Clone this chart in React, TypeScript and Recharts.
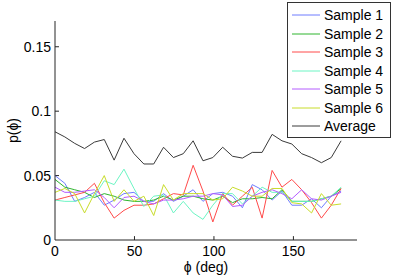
import { LineChart, Line, XAxis, YAxis, ReferenceLine } from 'recharts'

// angle bins (deg)
const angles = [
  0, 6.2, 12.4, 18.6, 24.8, 31.0, 37.2, 43.4, 49.7, 55.9, 62.1, 68.3, 74.5, 80.7, 86.9,
  93.1, 99.3, 105.5, 111.7, 117.9, 124.1, 130.3, 136.6, 142.8, 149.0, 155.2, 161.4, 167.6, 173.8, 180,
]

const sample1 = [
  0.050, 0.044, 0.030, 0.033, 0.037, 0.027, 0.031, 0.036, 0.037, 0.030, 0.030, 0.036, 0.030, 0.034, 0.039,
  0.030, 0.036, 0.037, 0.034, 0.025, 0.043, 0.039, 0.031, 0.038, 0.027, 0.027, 0.032, 0.025, 0.034, 0.038,
]
const sample2 = [
  0.047, 0.041, 0.039, 0.037, 0.033, 0.036, 0.034, 0.031, 0.030, 0.030, 0.031, 0.034, 0.031, 0.034, 0.034,
  0.032, 0.031, 0.034, 0.029, 0.032, 0.032, 0.033, 0.032, 0.039, 0.030, 0.030, 0.030, 0.032, 0.034, 0.040,
]
const sample3 = [
  0.031, 0.033, 0.035, 0.037, 0.044, 0.029, 0.017, 0.023, 0.027, 0.027, 0.028, 0.032, 0.036, 0.035, 0.058,
  0.038, 0.014, 0.036, 0.027, 0.034, 0.041, 0.017, 0.054, 0.041, 0.047, 0.039, 0.029, 0.017, 0.027, 0.040,
]
const sample4 = [
  0.031, 0.030, 0.030, 0.032, 0.034, 0.046, 0.043, 0.055, 0.040, 0.026, 0.034, 0.035, 0.021, 0.030, 0.021,
  0.016, 0.027, 0.036, 0.036, 0.028, 0.034, 0.041, 0.037, 0.037, 0.030, 0.030, 0.030, 0.032, 0.034, 0.041,
]
const sample5 = [
  0.041, 0.037, 0.037, 0.038, 0.039, 0.033, 0.025, 0.033, 0.034, 0.030, 0.028, 0.031, 0.031, 0.032, 0.034,
  0.034, 0.036, 0.035, 0.026, 0.027, 0.034, 0.037, 0.039, 0.036, 0.032, 0.039, 0.032, 0.031, 0.034, 0.037,
]
const sample6 = [
  0.037, 0.040, 0.036, 0.021, 0.036, 0.050, 0.030, 0.039, 0.030, 0.034, 0.019, 0.043, 0.031, 0.036, 0.036,
  0.036, 0.031, 0.032, 0.041, 0.038, 0.034, 0.034, 0.040, 0.040, 0.029, 0.028, 0.021, 0.036, 0.027, 0.028,
]
const average = [
  0.084, 0.080, 0.075, 0.071, 0.076, 0.078, 0.062, 0.079, 0.067, 0.059, 0.059, 0.072, 0.064, 0.067, 0.077,
  0.0615, 0.064, 0.072, 0.065, 0.0636, 0.068, 0.068, 0.082, 0.077, 0.0745, 0.067, 0.064, 0.060, 0.064, 0.077,
]

const xTicks = [0, 50, 100, 150]
const yTicks = [0, 0.05, 0.1, 0.15]

const series = [
  { key: 's1', name: 'Sample 1', values: sample1, color: '#6f7dff' },
  { key: 's2', name: 'Sample 2', values: sample2, color: '#2fb52f' },
  { key: 's3', name: 'Sample 3', values: sample3, color: '#ff4a4a' },
  { key: 's4', name: 'Sample 4', values: sample4, color: '#6cf5c4' },
  { key: 's5', name: 'Sample 5', values: sample5, color: '#b45cff' },
  { key: 's6', name: 'Sample 6', values: sample6, color: '#c8dc2a' },
  { key: 'avg', name: 'Average', values: average, color: '#3a3a3a' },
]

const data = angles.map((a, i) => {
  const row: Record<string, number> = { angle: a }
  series.forEach((s) => {
    row[s.key] = s.values[i]
  })
  return row
})

const font = '"Liberation Sans", Arial, Helvetica, sans-serif'
const axisColor = '#262626'

function YLabel(props: any) {
  const vb = props.viewBox
  const cx = vb.x + 18
  const cy = vb.y + vb.height / 2
  return (
    <text x={cx} y={cy} transform={`rotate(-90 ${cx} ${cy})`} textAnchor="middle" fontSize={14} fill="#000" fontFamily={font}>
      p(ϕ)
    </text>
  )
}

export default function App() {
  return (
    <div style={{ position: 'relative', width: 395, height: 277, background: '#fff', fontFamily: font }}>
      <style>{'body{margin:0}'}</style>
      <LineChart width={395} height={277} data={data} margin={{ top: 21, right: 38, left: 0, bottom: 7 }}>
        <XAxis
          dataKey="angle"
          type="number"
          domain={[0, 190]}
          ticks={xTicks}
          height={30}
          tickLine={false}
          tickSize={0}
          tickMargin={6}
          stroke={axisColor}
          tick={{ fontSize: 14, fill: '#000', fontFamily: font }}
          label={{ value: 'ϕ (deg)', position: 'insideBottom', offset: -2, fontSize: 14, fill: '#000', fontFamily: font }}
        />
        <YAxis
          type="number"
          domain={[0, 0.17]}
          ticks={yTicks}
          width={55}
          tickLine={false}
          tickSize={0}
          tickMargin={4}
          stroke={axisColor}
          tick={{ fontSize: 14, fill: '#000', fontFamily: font }}
          label={{ content: YLabel }}
        />
        {xTicks.slice(1).map((t) => (
          <ReferenceLine key={'xt' + t} segment={[{ x: t, y: 0 }, { x: t, y: 0.003 }]} stroke={axisColor} />
        ))}
        {yTicks.slice(1).map((t) => (
          <ReferenceLine key={'yt' + t} segment={[{ x: 0, y: t }, { x: 2.5, y: t }]} stroke={axisColor} />
        ))}
        {series.map((s) => (
          <Line
            key={s.key}
            dataKey={s.key}
            name={s.name}
            stroke={s.color}
            strokeWidth={1}
            dot={false}
            activeDot={false}
            type="linear"
            isAnimationActive={false}
          />
        ))}
      </LineChart>
      <div
        style={{
          position: 'absolute',
          left: 287,
          top: 2,
          width: 102,
          height: 131,
          border: '1px solid #333',
          background: '#fff',
          paddingTop: 3,
          boxSizing: 'content-box',
        }}
      >
        {series.map((s) => (
          <div key={s.key} style={{ display: 'flex', alignItems: 'center', height: 18.5, fontSize: 14, color: '#000' }}>
            <svg width={36} height={10} style={{ flex: 'none' }}>
              <line x1={4} x2={32} y1={5} y2={5} stroke={s.color} strokeWidth={1} />
            </svg>
            <span style={{ lineHeight: '18px', whiteSpace: 'nowrap' }}>{s.name}</span>
          </div>
        ))}
      </div>
    </div>
  )
}
